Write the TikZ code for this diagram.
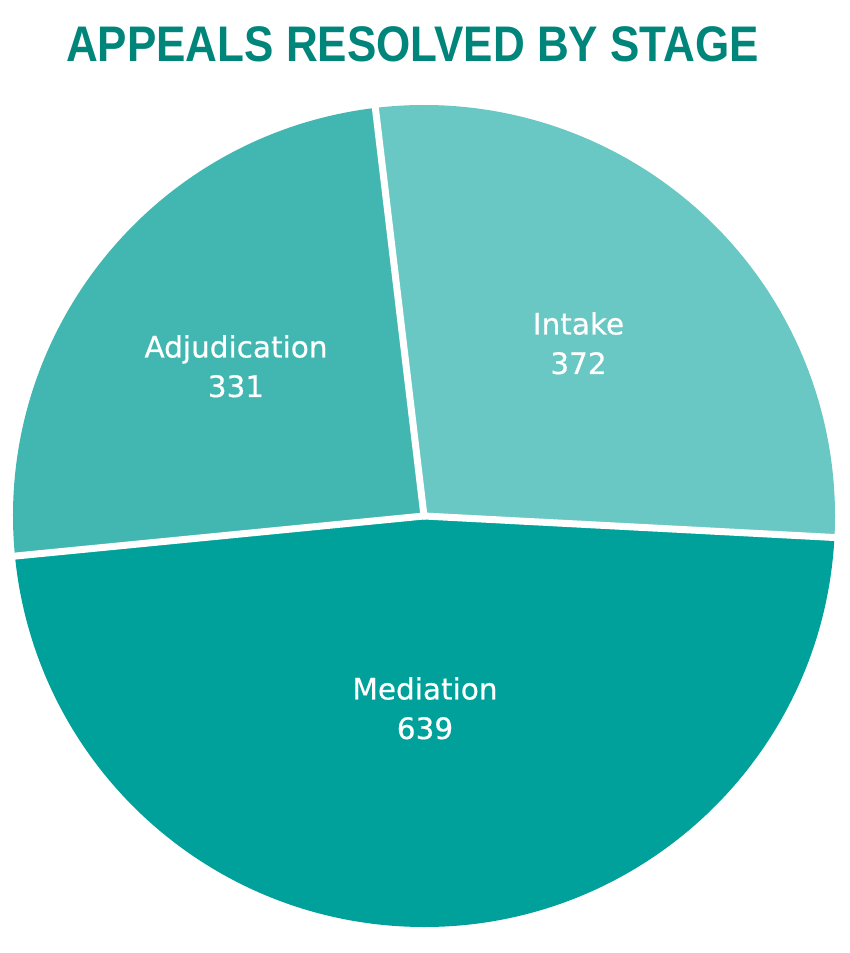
\documentclass[tikz,border=0pt]{standalone}
\usepackage{fontspec}
\setmainfont{Liberation Sans}
\newfontfamily\labelfont[FakeBold=0.5]{DejaVu Sans}
\usepackage{graphicx}
\definecolor{titlecol}{HTML}{00857A}
\definecolor{intakecol}{HTML}{69C7C4}
\definecolor{adjcol}{HTML}{42B6B1}
\definecolor{medcol}{HTML}{00A19A}
\begin{document}
\begin{tikzpicture}[x=1pt,y=1pt,
  slicelabel/.style={text=white, font=\labelfont\fontsize{29.5}{39.5}\selectfont, align=center, anchor=base, inner sep=0pt},
  divider/.style={draw=white, line width=7pt, line cap=round}]
\useasboundingbox (0,0) rectangle (850,953);
\fill[white] (0,0) rectangle (850,953);
\def\R{411}
\coordinate (C) at (424,437);
% slices
\fill[intakecol] (C) -- ++(96.8:\R) arc[start angle=96.8, end angle=-3.0, radius=\R] -- cycle;
\fill[medcol] (C) -- ++(-3.0:\R) arc[start angle=-3.0, end angle=-174.4, radius=\R] -- cycle;
\fill[adjcol] (C) -- ++(185.6:\R) arc[start angle=185.6, end angle=96.8, radius=\R] -- cycle;
% dividers
\coordinate (bTop) at ([shift={(96.8:\R)}]C);
\coordinate (bRight) at ([shift={(-3.0:\R)}]C);
\coordinate (bLeft) at ([shift={(185.6:\R)}]C);
\draw[divider] (C) -- (bTop);
\draw[divider] (C) -- (bRight);
\draw[divider] (C) -- (bLeft);
% labels (anchor = baseline of the last line)
\node[slicelabel] (intake) at (578.5,579) {Intake\\372};
\node[slicelabel] (adj) at (236,556) {Adjudication\\331};
\node[slicelabel] (med) at (425,214) {Mediation\\639};
% title
\node[anchor=base, inner sep=0pt, text=titlecol, font=\bfseries\fontsize{50}{60}\selectfont] (title) at (412.5,891) {\scalebox{0.88}[1]{APPEALS RESOLVED BY STAGE}};
\end{tikzpicture}
\end{document}
